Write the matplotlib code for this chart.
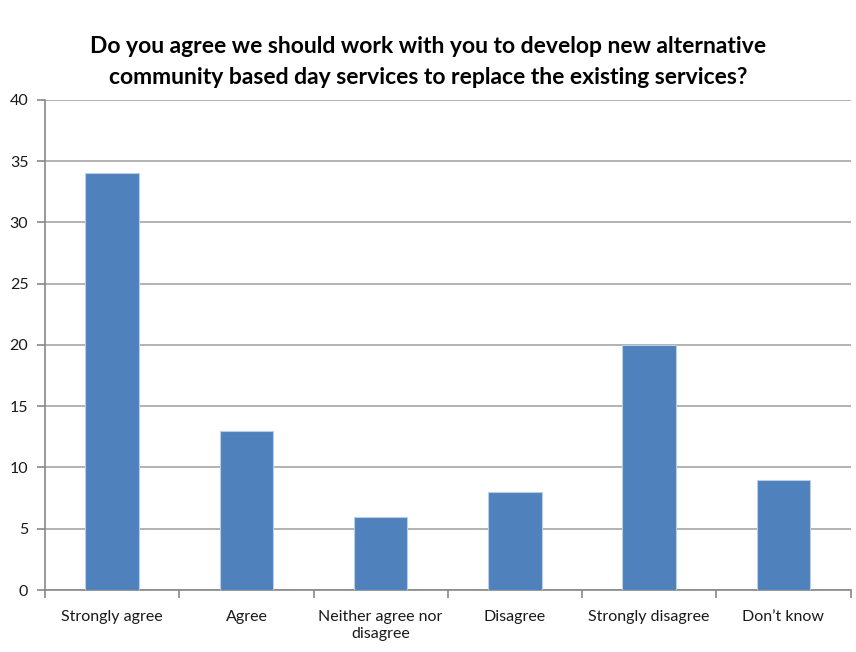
import numpy as np
import matplotlib
matplotlib.use("Agg")
import matplotlib.pyplot as plt

# data
categories = ["Strongly agree", "Agree", "Neither agree nor\ndisagree",
              "Disagree", "Strongly disagree", "Don\u2019t know"]
counts = [34, 13, 6, 8, 20, 9]
title = ("Do you agree we should work with you to develop new alternative\n"
         "community based day services to replace the existing services?")

plt.rcParams['font.family'] = ['Lato', 'DejaVu Sans']

fig = plt.figure(figsize=(8.56, 6.52), dpi=100)
ax = fig.add_axes([0.0526, 0.095, 0.941, 0.752])

x = np.arange(len(categories))
ax.bar(x, counts, width=0.4, color='#4F81BD', edgecolor='#B9CDE5',
       linewidth=0.8, zorder=3)

ax.set_xlim(-0.5, len(categories) - 0.5)
ax.set_ylim(0, 40)
ax.set_yticks(np.arange(0, 41, 5))
ax.yaxis.grid(True, color='#A6A6A6', linewidth=1.2, zorder=0)

ax.set_xticks(x)
ax.set_xticklabels(categories, fontsize=11.5, color='#1a1a1a', linespacing=1.35)
ax.set_xticks(np.arange(-0.5, len(categories)), minor=True)
ax.tick_params(axis='x', which='major', length=0, pad=14)
ax.tick_params(axis='x', which='minor', length=6, color='#888888', width=1.2)
ax.tick_params(axis='y', length=6, color='#888888', width=1.2,
               labelsize=11.5, labelcolor='#1a1a1a', pad=6)

for s in ('top', 'right'):
    ax.spines[s].set_visible(False)
for s in ('left', 'bottom'):
    ax.spines[s].set_color('#888888')
    ax.spines[s].set_linewidth(1.2)

fig.text(0.5, 0.945, title, ha='center', va='top', fontsize=16.5,
         fontweight='bold', color='black', linespacing=1.6)

fig.savefig("out.png", dpi=100, facecolor='white')
